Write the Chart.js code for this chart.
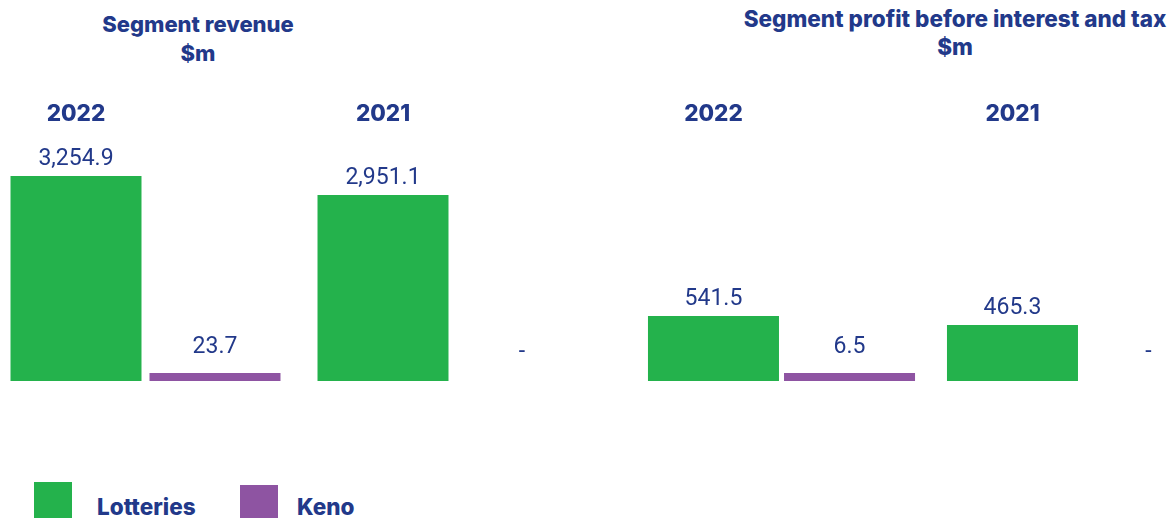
<!DOCTYPE html>
<html><head><meta charset="utf-8">
<script src="https://cdn.jsdelivr.net/npm/chart.js@4"></script>
<style>
html,body{margin:0;padding:0;background:#fff;width:1169px;height:518px;overflow:hidden;position:relative}
.t{position:absolute;font-family:Inter,"Noto Sans",sans-serif;font-weight:800;color:#22398a;text-align:center;font-size:22px;line-height:29px;white-space:nowrap}
canvas{position:absolute;top:0}
.sw{position:absolute;width:38px;height:40px}
.lt{position:absolute;top:494px;font-family:Inter,"Noto Sans",sans-serif;font-weight:800;font-size:22.5px;line-height:26px;color:#22398a}
</style></head><body>
<div class="t" style="left:88px;top:10px;width:220px">Segment revenue<br>$m</div>
<div class="t" style="left:725px;top:5px;width:460px;font-size:22.5px;line-height:28px">Segment profit before interest and tax<br>$m</div>
<canvas id="c1" width="614" height="381" style="left:-8px"></canvas>
<canvas id="c2" width="598" height="381" style="left:632px"></canvas>
<div class="sw" style="left:34px;top:482px;background:#24b24c"></div><div class="lt" style="left:97px">Lotteries</div>
<div class="sw" style="left:240px;top:485px;background:#8e54a2"></div><div class="lt" style="left:297px">Keno</div>
<script>
const years=['2022','2021'];
const revLotteries=[3254.9,2951.1];
const revKeno=[23.7,null];
const ebitLotteries=[541.5,465.3];
const ebitKeno=[6.5,null];

const green='#24b24c',purple='#8e54a2',navy='#22398a';
function fmt(v){return v.toLocaleString('en-US',{minimumFractionDigits:1,maximumFractionDigits:1});}

const valLabels={id:'vals',afterDatasetsDraw(ch){
 const ctx=ch.ctx,base=ch.scales.y.getPixelForValue(0);
 ctx.save();ctx.textAlign='center';ctx.fillStyle=navy;
 ch.data.datasets.forEach((ds,di)=>{
  ch.getDatasetMeta(di).data.forEach((bar,i)=>{
   const v=ds.data[i];
   ctx.font='23px Roboto';
   if(v==null){ctx.fillText('-',bar.x,base-23);return;}
   ctx.fillText(fmt(v),bar.x,bar.y-(di?20:11));
  });
 });
 ctx.font='800 22.5px Inter';
 ch.getDatasetMeta(0).data.forEach((bar,i)=>ctx.fillText(ch.data.labels[i],bar.x,121));
 ctx.restore();
}};

function make(id,lott,keno,max,barPct,catPct){
 return new Chart(document.getElementById(id),{type:'bar',
  data:{labels:years,datasets:[
   {label:'Lotteries',data:lott,backgroundColor:green,barPercentage:barPct,categoryPercentage:catPct,minBarLength:8},
   {label:'Keno',data:keno,backgroundColor:purple,barPercentage:barPct,categoryPercentage:catPct,minBarLength:8}]},
  options:{responsive:false,animation:false,layout:{padding:0},
   scales:{x:{display:false},y:{display:false,min:0,max:max}},
   plugins:{legend:{display:false},tooltip:{enabled:false}}},
  plugins:[valLabels]});
}
make('c1',revLotteries,revKeno,6049,0.9424,0.9055);
make('c2',ebitLotteries,ebitKeno,3170,0.963,0.91);
</script>
</body></html>
